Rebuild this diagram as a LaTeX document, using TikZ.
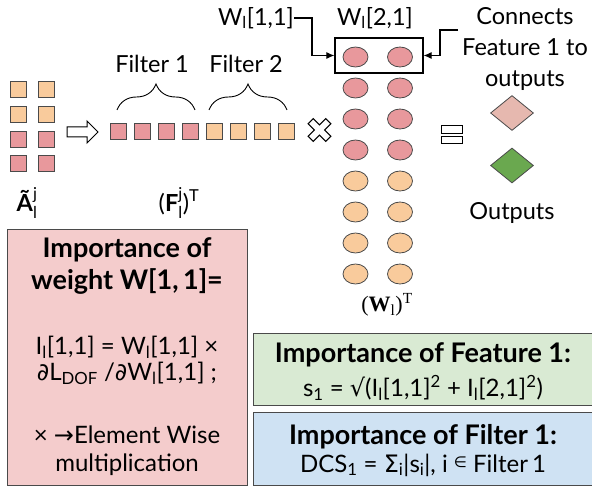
\documentclass[tikz,border=0pt]{standalone}
\usepackage{fontspec}
\usepackage{amsmath}
\setmainfont{Lato}
\newfontfamily\symf{DejaVu Sans}
\newfontfamily\serifW{Liberation Serif}
\usetikzlibrary{decorations.pathreplacing,shapes.geometric,arrows.meta}

\definecolor{cellpink}{HTML}{E8989C}
\definecolor{cellorange}{HTML}{F9CB9C}
\definecolor{cellline}{HTML}{4A4A4A}
\definecolor{boxpink}{HTML}{F4CCCC}
\definecolor{boxgreen}{HTML}{D9EAD3}
\definecolor{boxblue}{HTML}{CFE2F3}
\definecolor{dpink}{HTML}{E6B8AF}
\definecolor{dgreen}{HTML}{6AA84F}

\newcommand\lbl{\fontsize{23.5}{28}\selectfont}
\newcommand\regtxt{\fontsize{24}{28}\selectfont}
\newcommand\boldtxt{\fontsize{27}{32}\selectfont\bfseries}
\newcommand\lo[1]{\textsubscript{#1}}
\newcommand\hi[1]{\textsuperscript{#1}}

\tikzset{
  cell/.style={draw=cellline, line width=0.9pt, minimum width=16pt, minimum height=16pt, inner sep=0pt},
  pinkcell/.style={cell, fill=cellpink},
  orangecell/.style={cell, fill=cellorange},
  weight/.style={ellipse, draw=cellline, line width=0.8pt, minimum width=25pt, minimum height=20pt, inner sep=0pt},
  pinkw/.style={weight, fill=cellpink},
  orangew/.style={weight, fill=cellorange},
  txt/.style={inner sep=0pt, font=\lbl, align=center},
  word/.style={inner sep=0pt, font=\lbl},
  panel/.style={draw=cellline, line width=1pt},
  pointer/.style={line width=1.1pt, -{Latex[length=8pt,width=7pt]}},
  hollow/.style={draw=black, line width=1pt, fill=white, line join=miter},
  fbrace/.style={decorate, decoration={brace, amplitude=26pt}, line width=0.9pt},
  shape diamond/.style={diamond, draw=cellline, line width=0.8pt, minimum width=43pt, minimum height=35pt, inner sep=0pt, aspect=1.23}
}

\begin{document}
\begin{tikzpicture}[x=1pt, y=-1pt]
\useasboundingbox (0,0) rectangle (592,486);

% input feature map (4 x 2)
\foreach \r/\s in {1/orangecell,2/orangecell,3/pinkcell,4/pinkcell}{
  \node[\s] (a\r l) at (18.5, 65+24.7*\r) {};
  \node[\s] (a\r r) at (46, 65+24.7*\r) {};
}
\node[word] (alabel) at (27,203) {\textbf{Ã}$^{\text{j}}_{\text{l}}$};

% flatten arrow
\draw[hollow] (67,127) -- (87,127) -- (87,121) -- (98,132) -- (87,143) -- (87,137) -- (67,137) -- cycle;

% flattened row of features
\foreach \i in {1,...,4}{
  \node[pinkcell] (f\i) at (118+24.1*\i-24.1, 131) {};
}
\foreach \i in {5,...,8}{
  \node[orangecell] (f\i) at (118+24.1*\i-24.1, 131) {};
}
\node[word] (flabel) at (179,203) {(\textbf{F}$^{\text{j}}_{\text{l}}$)\hi{T}};

% filter braces
\coordinate (b1s) at (117,110);
\coordinate (b1e) at (195,110);
\coordinate (b2s) at (209,110);
\coordinate (b2e) at (287,110);
\draw[fbrace] (b1s) -- (b1e);
\draw[fbrace] (b2s) -- (b2e);
\node[word] (filt1) at (152,64) {Filter 1};
\node[word] (filt2) at (246,64) {Filter 2};

% multiplication sign
\begin{scope}[shift={(319.5,130)}, rotate=45]
  \draw[hollow] (-3.6,-3.6) -- (-3.6,-12.5) -- (3.6,-12.5) -- (3.6,-3.6) -- (12.5,-3.6) -- (12.5,3.6)
    -- (3.6,3.6) -- (3.6,12.5) -- (-3.6,12.5) -- (-3.6,3.6) -- (-12.5,3.6) -- (-12.5,-3.6) -- cycle;
\end{scope}

% weight matrix (transposed): 8 rows x 2 columns
\foreach \r in {1,...,4}{
  \node[pinkw] (w\r a) at (355.5, 57+31*\r-31) {};
  \node[pinkw] (w\r b) at (400, 57+31*\r-31) {};
}
\foreach \r in {5,...,8}{
  \node[orangew] (w\r a) at (355.5, 57+31*\r-31) {};
  \node[orangew] (w\r b) at (400, 57+31*\r-31) {};
}
\node[draw=black, line width=1.2pt, minimum width=88pt, minimum height=35pt, inner sep=0pt]
  (wbox) at (379,55.5) {};
\node[word, font=\fontsize{22}{26}\selectfont\serifW] (wlabel) at (387,305) {(\textbf{W}\lo{l})\hi{T}};

% weight labels and pointers
\node[word] (w11) at (256,18) {W\lo{l}[1,1]};
\node[word] (w21) at (375,18) {W\lo{l}[2,1]};
\draw[pointer] (w11.east) -- ++(18,0) |- (wbox.west);

\node[txt, font=\fontsize{23.5}{31}\selectfont] (conn) at (525,49) {Connects\\Feature 1 to\\outputs};
\coordinate (connstart) at (458,30);
\draw[pointer] (connstart) -- ++(-18,0) |- (wbox.east);

% equals sign
\node[hollow, draw, minimum width=21pt, minimum height=8pt, inner sep=0pt] (eqtop) at (451.5,130) {};
\node[hollow, draw, minimum width=21pt, minimum height=7pt, inner sep=0pt] (eqbot) at (451.5,140.5) {};

% outputs
\node[shape diamond, fill=dpink] (o1) at (512,113) {};
\node[shape diamond, fill=dgreen] (o2) at (512,165.5) {};
\node[word] (outs) at (512,213) {Outputs};

% importance of a single weight
\node[panel, fill=boxpink, minimum width=240pt, minimum height=255pt, inner sep=0pt] (pbox) at (127,357.5) {};
\node[txt, font=\boldtxt] (p1) at (127,266) {Importance of\\weight W[1,\,1]=};
\node[txt, font=\fontsize{24}{26}\selectfont] (p2) at (127,360) {I\lo{l}[1,1] = W\lo{l}[1,1] ×\\{\symf ∂}L\lo{DOF} /{\symf ∂}W\lo{l}[1,1] ;};
\node[txt, font=\fontsize{24}{28}\selectfont] (p3) at (127,451) {× {\symf →}Element Wise\\multiplication};

% importance of a feature
\node[panel, fill=boxgreen, minimum width=345pt, minimum height=72pt, inner sep=0pt, anchor=north west] (gbox) at (253,333) {};
\node[word, font=\boldtxt] (g1) at (423,355) {Importance of Feature 1:};
\node[word, font=\regtxt] (g2) at (423,388) {s\lo{1} = {\symf √}(I\lo{l}[1,1]\hi{2} + I\lo{l}[2,1]\hi{2})};

% importance of a filter
\node[panel, fill=boxblue, minimum width=345pt, minimum height=73pt, inner sep=0pt, anchor=north west] (bbox) at (253,412) {};
\node[word, font=\boldtxt] (b1) at (423,437) {Importance of Filter 1:};
\node[word, font=\regtxt] (b2) at (423,465) {DCS\lo{1} = {\symf Σ}\lo{i}|s\lo{i}|, i \raisebox{0.35ex}{\symf\fontsize{15}{15}\selectfont ∈} Filter\,1};
\end{tikzpicture}
\end{document}
